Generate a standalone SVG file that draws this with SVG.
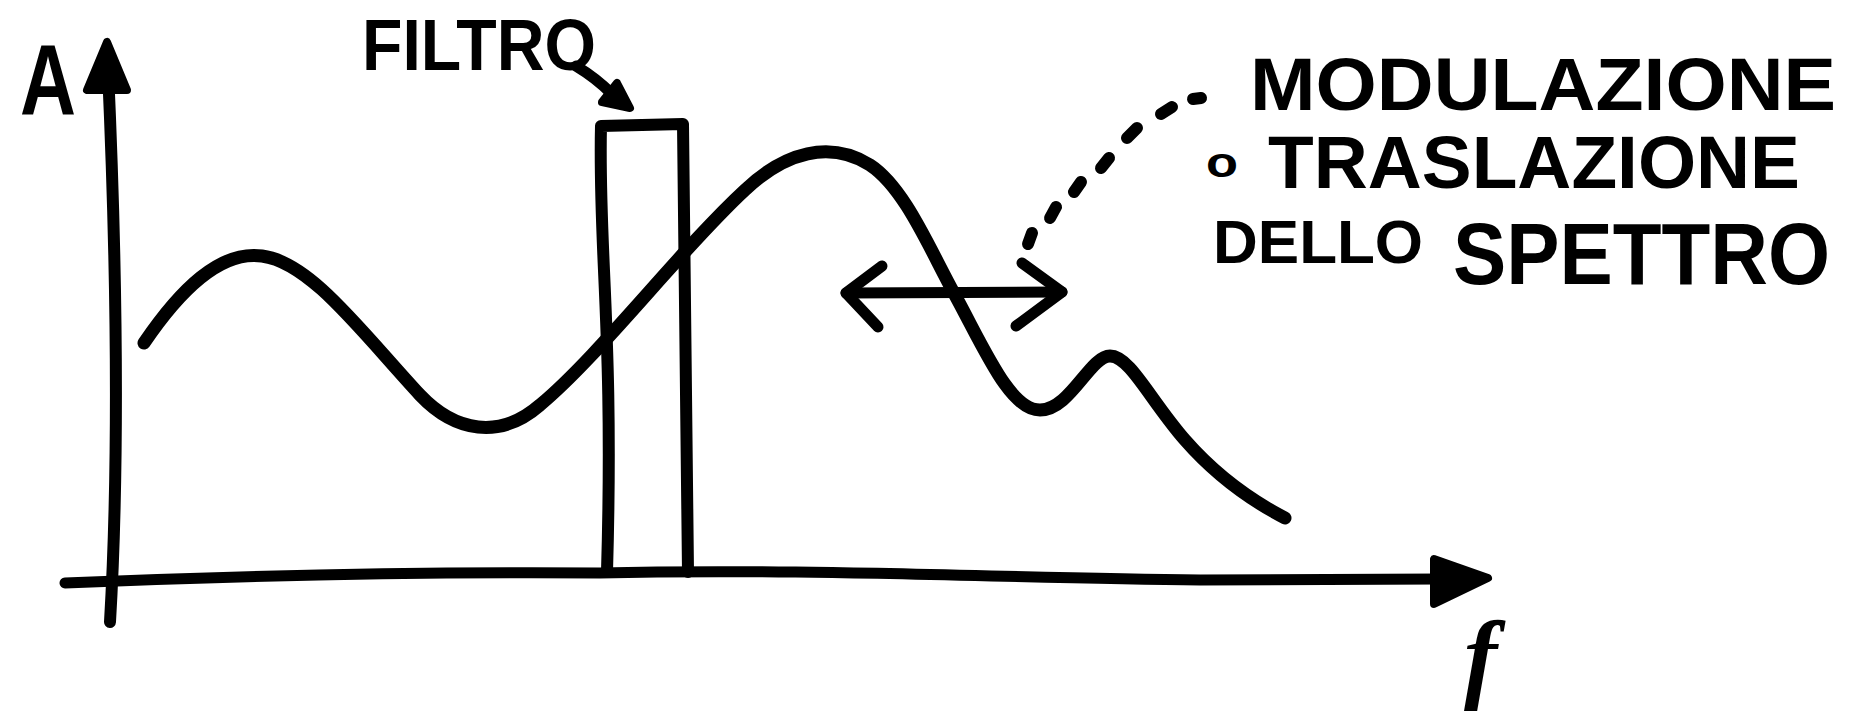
<svg xmlns="http://www.w3.org/2000/svg" width="1857" height="724" viewBox="0 0 1857 724">
<style>
.ln{fill:none;stroke:#000;stroke-linecap:round;stroke-linejoin:round}
.hd{fill:#000;stroke:#000;stroke-width:8;stroke-linejoin:round}
.tx{font-family:"Liberation Sans",Arial,sans-serif;font-weight:bold;fill:#000}
</style>
<rect width="1857" height="724" fill="#fff"/>
<g id="axes">
<path class="ln" stroke-width="12" d="M108,70 C116,250 120,450 110,622"/>
<polygon class="hd" points="107,42 87,90 127,90"/>
<path class="ln" stroke-width="11" d="M65,583 C250,575 450,572 600,573 C800,568 1000,578 1200,580 L1440,579"/>
<polygon class="hd" points="1488,578 1434,559 1434,604"/>
<text class="tx" x="20" y="115" font-size="100" textLength="56" lengthAdjust="spacingAndGlyphs">A</text>
<text x="1464" y="690" font-family="'Liberation Serif',serif" font-style="italic" font-weight="bold" font-size="100" fill="#000">f</text>
</g>
<g id="spectrum">
<path class="ln" stroke-width="13" d="M144,343 C180,290 220,250 262,256 C310,262 360,330 420,395 C455,432 500,440 540,405 C600,355 680,250 745,190 C785,152 830,140 870,165 C905,188 930,250 955,295 C985,350 1010,410 1040,410 C1070,410 1090,356 1110,356 C1130,356 1150,400 1185,440 C1220,480 1260,505 1285,518"/>
</g>
<g id="filter">
<path class="ln" stroke-width="12" d="M607,572 C614,330 598,250 601,126 L683,124 C684,250 686,400 688,572"/>
<text class="tx" x="362" y="70" font-size="72" textLength="234" lengthAdjust="spacingAndGlyphs">FILTRO</text>
</g>
<g id="label">
<text class="tx" x="1250" y="110" font-size="74" textLength="586" lengthAdjust="spacingAndGlyphs">MODULAZIONE</text>
<text class="tx" x="1206" y="177" font-size="42" textLength="32" lengthAdjust="spacingAndGlyphs">o</text>
<text class="tx" x="1268" y="188" font-size="74" textLength="532" lengthAdjust="spacingAndGlyphs">TRASLAZIONE</text>
<text class="tx" x="1213" y="263" font-size="62">DELLO</text>
<text class="tx" x="1453" y="284" font-size="88" textLength="377" lengthAdjust="spacingAndGlyphs">SPETTRO</text>
</g>
<g id="connectors">
<path class="ln" stroke-width="11" d="M576,66 Q596,78 612,94"/>
<polygon class="hd" points="630,108 602,102 617,83"/>
<path class="ln" stroke-width="11" d="M846,293 L1062,292"/>
<path class="ln" stroke-width="11" d="M882,266 L846,293 L878,327"/>
<path class="ln" stroke-width="11" d="M1022,263 L1062,292 L1016,326"/>
<path class="ln" stroke-width="12" d="M1028,244 L1032,233 M1050,218 L1056,207 M1074,192 L1081,182 M1101,168 L1109,158 M1127,138 L1137,128 M1161,114 L1172,107 M1193,99 L1201,98"/>
</g>
</svg>
